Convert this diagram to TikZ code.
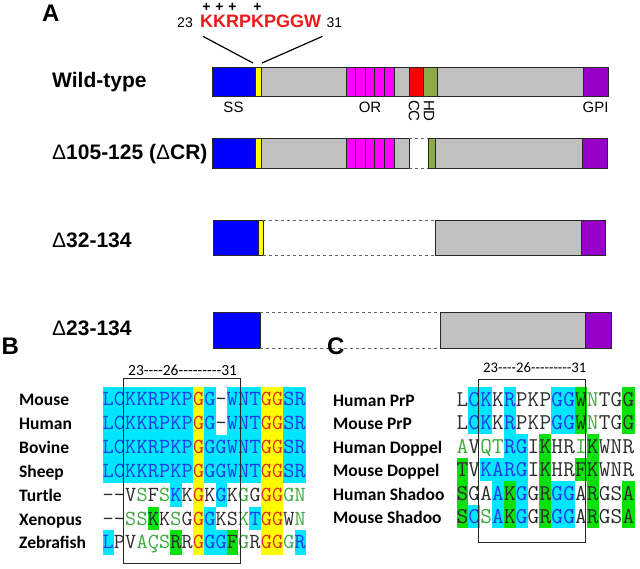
\documentclass[tikz,border=0pt]{standalone}
\usepackage{fontspec}
\usepackage{tikz}
\usetikzlibrary{positioning}
\newfontfamily\arialfont{Liberation Sans}
\newfontfamily\calfont{Carlito}
% domain colours
\definecolor{ssblue}{RGB}{0,0,255}
\definecolor{octyellow}{RGB}{255,255,0}
\definecolor{ormagenta}{RGB}{255,0,255}
\definecolor{ccred}{RGB}{255,0,0}
\definecolor{hdgreen}{RGB}{140,170,70}
\definecolor{gpipurple}{RGB}{150,0,200}
\definecolor{bodygrey}{RGB}{192,192,192}
\definecolor{kseqred}{RGB}{235,25,25}
% alignment colours
\definecolor{bgc}{RGB}{0,230,255}
\definecolor{bgy}{RGB}{255,255,0}
\definecolor{bgg}{RGB}{10,225,10}
\definecolor{bgw}{RGB}{255,255,255}
\definecolor{txb}{RGB}{30,60,230}
\definecolor{txr}{RGB}{230,40,30}
\definecolor{txg}{RGB}{60,170,60}
\definecolor{txk}{RGB}{45,45,45}

\tikzset{
  seg/.style={draw=black!85,line width=0.8pt},
  gapline/.style={draw=black!60,dashed,line width=0.7pt},
  panlab/.style={anchor=base west,inner sep=0pt,font=\arialfont\bfseries\fontsize{24}{24}\selectfont},
  conlab/.style={anchor=base west,inner sep=0pt,font=\arialfont\bfseries\fontsize{21}{21}\selectfont},
  domlab/.style={anchor=base,inner sep=0pt,font=\arialfont\fontsize{15}{15}\selectfont},
  rowlab/.style={anchor=base west,inner sep=0pt,font=\calfont\bfseries\fontsize{17.5}{17.5}\selectfont},
  hdr/.style={anchor=base west,inner sep=0pt,font=\calfont\fontsize{15.5}{15.5}\selectfont},
  boxline/.style={draw=black!85,line width=0.8pt}
}

% one row of an alignment: name, row index, residue/background/text list
\newcommand{\alnrow}[3]{%
  \foreach \rs/\bk/\fc [count=\ci from 0] in {#3}{%
    \fill[fill=bg\bk] (\alx+\ci*\alw,\aly+#2*\alh) rectangle ++(\alw+0.4,\alh+0.4);
    \node[res,text=tx\fc] (#1-\ci) at (\alx+\ci*\alw+0.5*\alw,\aly+#2*\alh+\alb) {\rs};
  }}

\begin{document}
\begin{tikzpicture}[x=1pt,y=-1pt]
  \useasboundingbox (0,0) rectangle (640,569);

  % ---- A: constructs
  \node[panlab] (pA) at (42,22) {A};
  \node[anchor=base west,inner sep=0pt,text=kseqred,
        font=\arialfont\bfseries\fontsize{18}{18}\selectfont] (kseq) at (200,28) {KKRPKPGGW};
  \node[inner sep=0pt,font=\arialfont\fontsize{14}{14}\selectfont,
        base left=7pt of kseq] (n23) {23};
  \node[inner sep=0pt,font=\arialfont\fontsize{14}{14}\selectfont,
        base right=5pt of kseq] (n31) {31};
  \foreach \px [count=\k] in {206.5,219.5,232.5,257.5}
    \node[anchor=base,inner sep=0pt,font=\arialfont\bfseries\fontsize{14}{14}\selectfont]
      (plus\k) at (\px,12) {+};
  \coordinate (octL) at (253,63);
  \coordinate (octR) at (262,63);
  \draw[line width=1.2pt] ([shift={(3,8)}]kseq.south west) -- (octL);
  \draw[line width=1.2pt] ([shift={(1,8)}]kseq.south east) -- (octR);

  % wild-type
  \node[conlab] (wt) at (52,88) {Wild-type};
  \filldraw[seg,fill=bodygrey] (212,67) rectangle (608,96);
  \filldraw[seg,fill=ssblue] (212,67) rectangle (255,96);
  \filldraw[seg,fill=octyellow] (255,67) rectangle (261,96);
  \filldraw[seg,fill=ormagenta] (346,67) rectangle (394,96);
  \foreach \x in {355.6,365.2,374.8,384.4} \draw[seg] (\x,67) -- (\x,96);
  \filldraw[seg,fill=ccred] (409,67) rectangle (423,96);
  \filldraw[seg,fill=hdgreen] (423,67) rectangle (437,96);
  \filldraw[seg,fill=gpipurple] (583,67) rectangle (608,96);
  \node[domlab] (ss) at (233.5,113) {SS};
  \node[domlab] (or) at (370,113) {OR};
  \node[domlab] (gpi) at (595.5,113) {GPI};
  \node[domlab,anchor=center,rotate=-90] (cc) at (414,111) {CC};
  \node[domlab,anchor=center,rotate=-90] (hd) at (429,111) {HD};

  % delta 105-125
  \node[conlab] (dcr) at (52,160) {{\mdseries Δ}105-125 ({\mdseries Δ}CR)};
  \filldraw[seg,fill=ssblue] (212,138) rectangle (255,168);
  \filldraw[seg,fill=octyellow] (255,138) rectangle (261,168);
  \filldraw[seg,fill=bodygrey] (261,138) rectangle (409,168);
  \filldraw[seg,fill=ormagenta] (346,138) rectangle (394,168);
  \foreach \x in {355.6,365.2,374.8,384.4} \draw[seg] (\x,138) -- (\x,168);
  \draw[gapline] (409,138) -- (428,138) (409,168) -- (428,168);
  \filldraw[seg,fill=hdgreen] (428,138) rectangle (435,168);
  \filldraw[seg,fill=bodygrey] (435,138) rectangle (582,168);
  \filldraw[seg,fill=gpipurple] (582,138) rectangle (607,168);

  % delta 32-134
  \node[conlab] (d32) at (52,248) {{\mdseries Δ}32-134};
  \filldraw[seg,fill=ssblue] (213,220) rectangle (258,255);
  \filldraw[seg,fill=octyellow] (258,220) rectangle (263,255);
  \draw[gapline] (263,220) -- (435,220) (263,255) -- (435,255);
  \filldraw[seg,fill=bodygrey] (435,220) rectangle (581,255);
  \filldraw[seg,fill=gpipurple] (581,220) rectangle (605,255);

  % delta 23-134
  \node[conlab] (d23) at (52,336) {{\mdseries Δ}23-134};
  \filldraw[seg,fill=ssblue] (213,312) rectangle (260,348);
  \draw[gapline] (260,312) -- (440,312) (260,348) -- (440,348);
  \filldraw[seg,fill=bodygrey] (440,312) rectangle (585,348);
  \filldraw[seg,fill=gpipurple] (585,312) rectangle (611,348);

  % ---- B: PrP of vertebrates
  \begin{scope}[res/.style={anchor=base,inner sep=0pt,font=\ttfamily\fontsize{21.5}{21.5}\selectfont}]
    \def\alx{102.5}\def\alw{11.3}\def\aly{387}\def\alh{23.9}\def\alb{18.5}
    \node[panlab] (pB) at (1.5,355) {B};
    \node[hdr] (hB) at (128,375) {23----26---------31};
    \foreach \nm [count=\j from 0] in {Mouse,Human,Bovine,Sheep,Turtle,Xenopus,Zebrafish}
      \node[rowlab] (lb\j) at (19,\aly+\j*\alh+\alb) {\nm};
    \alnrow{bmo}{0}{L/c/b,C/c/b,K/c/b,K/c/b,R/c/b,P/c/b,K/c/b,P/c/b,G/y/r,G/c/b,–/w/k,W/c/b,N/c/b,T/c/b,G/y/r,G/y/r,S/c/b,R/c/b}
    \alnrow{bhu}{1}{L/c/b,C/c/b,K/c/b,K/c/b,R/c/b,P/c/b,K/c/b,P/c/b,G/y/r,G/c/b,–/w/k,W/c/b,N/c/b,T/c/b,G/y/r,G/y/r,S/c/b,R/c/b}
    \alnrow{bbo}{2}{L/c/b,C/c/b,K/c/b,K/c/b,R/c/b,P/c/b,K/c/b,P/c/b,G/y/r,G/c/b,G/c/b,W/c/b,N/c/b,T/c/b,G/y/r,G/y/r,S/c/b,R/c/b}
    \alnrow{bsh}{3}{L/c/b,C/c/b,K/c/b,K/c/b,R/c/b,P/c/b,K/c/b,P/c/b,G/y/r,G/c/b,G/c/b,W/c/b,N/c/b,T/c/b,G/y/r,G/y/r,S/c/b,R/c/b}
    \alnrow{btu}{4}{–/w/k,–/w/k,V/w/k,S/w/g,F/w/k,S/w/g,K/c/b,K/w/k,G/y/r,K/w/k,G/c/b,K/w/k,G/w/g,G/w/k,G/y/r,G/y/r,G/w/g,N/w/g}
    \alnrow{bxe}{5}{–/w/k,–/w/k,S/w/g,S/w/g,K/g/k,K/w/k,S/w/g,G/w/k,G/y/r,G/c/b,K/w/k,S/w/k,K/w/g,T/c/b,G/y/r,G/y/r,W/w/k,N/w/g}
    \alnrow{bze}{6}{L/c/b,P/w/k,V/w/k,A/w/g,Ç/w/g,S/w/g,R/g/k,R/w/k,G/y/r,G/c/b,G/c/b,F/g/k,G/w/g,R/w/k,G/y/r,G/y/r,G/w/g,R/c/b}
    \draw[boxline] (123.5,378) rectangle (240,563);
  \end{scope}

  % ---- C: PrP, Doppel, Shadoo
  \begin{scope}[res/.style={anchor=base,inner sep=0pt,font=\ttfamily\fontsize{22.6}{22.6}\selectfont},
                hdr/.append style={font=\calfont\fontsize{14.7}{14.7}\selectfont}]
    \def\alx{456.5}\def\alw{11.85}\def\aly{387}\def\alh{23.5}\def\alb{19}
    \node[panlab] (pC) at (327,355) {C};
    \node[hdr] (hC) at (483,373) {23----26---------31};
    \foreach \nm [count=\j from 0] in {Human PrP,Mouse PrP,Human Doppel,Mouse Doppel,Human Shadoo,Mouse Shadoo}
      \node[rowlab] (lc\j) at (333,\aly+\j*\alh+\alb) {\nm};
    \alnrow{chp}{0}{L/w/k,C/c/b,K/c/b,K/w/k,R/c/b,P/w/k,K/w/k,P/w/k,G/c/b,G/c/b,W/g/k,N/w/g,T/w/k,G/w/k,G/g/k}
    \alnrow{cmp}{1}{L/w/k,C/c/b,K/c/b,K/w/k,R/c/b,P/w/k,K/w/k,P/w/k,G/c/b,G/c/b,W/g/k,N/w/g,T/w/k,G/w/k,G/g/k}
    \alnrow{chd}{2}{A/w/g,V/w/k,Q/w/g,T/w/g,R/c/b,G/c/b,I/w/k,K/g/k,H/w/k,R/w/k,I/w/g,K/g/k,W/w/k,N/w/k,R/w/k}
    \alnrow{cmd}{3}{T/g/k,V/w/k,K/c/b,A/c/b,R/c/b,G/c/b,I/w/k,K/g/k,H/w/k,R/w/k,F/g/k,K/g/k,W/w/k,N/w/k,R/w/k}
    \alnrow{chs}{4}{S/g/k,G/w/k,A/w/k,A/c/b,K/g/k,G/c/b,G/w/k,R/g/k,G/c/b,G/c/b,A/w/k,R/g/k,G/w/k,S/w/k,A/g/k}
    \alnrow{cms}{5}{S/g/k,C/c/b,S/w/g,A/c/b,K/g/k,G/c/b,G/w/k,R/g/k,G/c/b,G/c/b,A/w/k,R/g/k,G/w/k,S/w/k,A/g/k}
    \draw[boxline] (478,379) rectangle (585,542);
  \end{scope}
\end{tikzpicture}
\end{document}
